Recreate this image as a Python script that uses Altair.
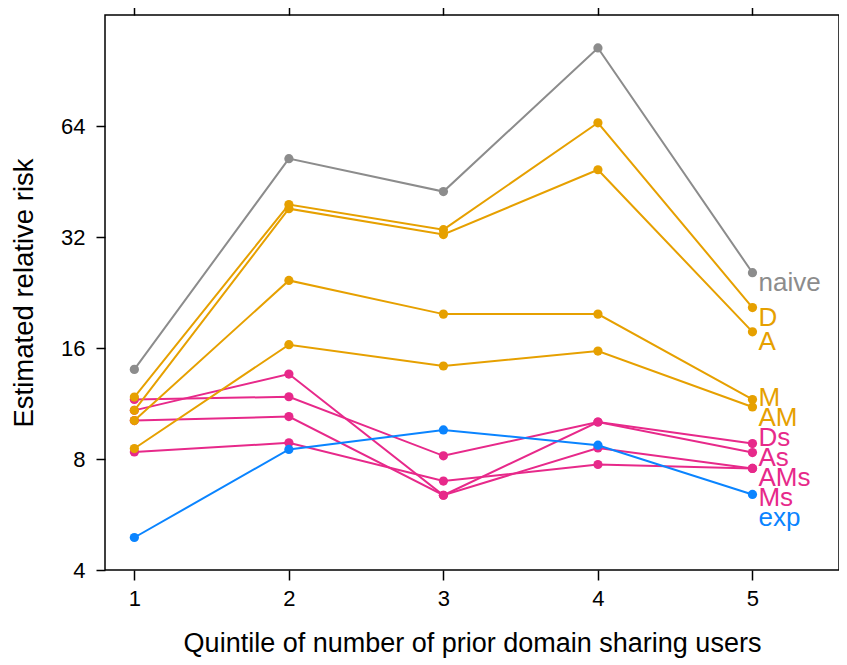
import altair as alt
import pandas as pd
import numpy as np

quintiles = [1, 2, 3, 4, 5]
series_names = ["naive", "D", "A", "M", "AM", "Ds", "As", "AMs", "Ms", "exp"]

naive = [14.0, 52.2, 42.5, 104.2, 25.6]
D = [11.78, 39.2, 33.5, 65.3, 20.6]
A = [10.84, 38.2, 32.5, 48.7, 17.7]
M = [10.17, 24.4, 19.77, 19.77, 11.6]
AM = [8.54, 16.33, 14.3, 15.7, 11.07]
Ds = [11.6, 11.8, 8.16, 10.08, 8.81]
As = [10.84, 13.6, 6.38, 10.08, 8.33]
AMs = [10.17, 10.43, 6.38, 8.57, 7.54]
Ms = [8.36, 8.85, 6.97, 7.73, 7.54]
exp = [4.9, 8.49, 9.59, 8.72, 6.41]

series_values = [naive, D, A, M, AM, Ds, As, AMs, Ms, exp]
series_group = ["naive", "model", "model", "model", "model",
                "smooth", "smooth", "smooth", "smooth", "exp"]
group_colors = {"naive": "#8C8C8C", "model": "#E6A000", "smooth": "#E7298A", "exp": "#0A84FF"}
y_ticks = [4, 8, 16, 32, 64]

rows = []
for name, vals, grp in zip(series_names, series_values, series_group):
    for q, v in zip(quintiles, vals):
        rows.append({"series": name, "group": grp, "q": q, "risk": v})
df = pd.DataFrame(rows)

# direct labels: place at last point, spread to avoid overlap (log2 space)
ends = [(i, name, vals[-1]) for i, (name, vals) in enumerate(zip(series_names, series_values))]
ends_sorted = sorted(ends, key=lambda t: (-t[2], t[0]))
offset = 0.09
gap = 0.18
desired = [-np.log2(v) + offset for _, _, v in ends_sorted]
z = [d - i * gap for i, d in enumerate(desired)]
blocks = []
for v in z:
    blocks.append([v, 1])
    while len(blocks) > 1 and blocks[-2][0] / blocks[-2][1] > blocks[-1][0] / blocks[-1][1]:
        s, c = blocks.pop()
        blocks[-1][0] += s
        blocks[-1][1] += c
fit = []
for s, c in blocks:
    fit += [s / c] * c
pos = [f + i * gap for i, f in enumerate(fit)]
lab_rows = []
for (i, name, v), u in zip(ends_sorted, pos):
    lab_rows.append({"series": name, "group": series_group[i], "q": 5, "risk": float(2 ** (-u))})
labdf = pd.DataFrame(lab_rows)

xscale = alt.Scale(domain=[0.81, 5.56], nice=False, zero=False)
yscale = alt.Scale(type="log", base=2, domain=[4, 128], nice=False)
cscale = alt.Scale(domain=list(group_colors.keys()), range=list(group_colors.values()))

FONT = "Liberation Sans"
xax = alt.Axis(values=quintiles, format="d", tickSize=10, tickColor="black", tickWidth=1.5,
               labelFontSize=22, labelPadding=8, labelColor="black", labelFont=FONT,
               titleFontSize=27, titleFont=FONT, titleFontWeight="normal",
               titlePadding=21, titleColor="black", domain=False, grid=False)
yax = alt.Axis(values=y_ticks, format="d", tickSize=9, tickColor="black", tickWidth=1.5,
               labelFontSize=22, labelPadding=11, labelColor="black", labelFont=FONT,
               titleFontSize=27.5, titleFont=FONT, titleFontWeight="normal",
               titlePadding=22, titleColor="black", domain=False, grid=False)

layers = []
for grp in ["smooth", "model", "naive", "exp"]:
    sub = df[df["group"] == grp]
    base = alt.Chart(sub).encode(
        x=alt.X("q:Q", scale=xscale, axis=xax, title="Quintile of number of prior domain sharing users"),
        y=alt.Y("risk:Q", scale=yscale, axis=yax, title="Estimated relative risk"),
        color=alt.Color("group:N", scale=cscale, legend=None),
        detail="series:N",
    )
    layers.append(base.mark_line(strokeWidth=2))
    layers.append(base.mark_circle(size=85, opacity=1))

labels = alt.Chart(labdf).mark_text(align="left", baseline="middle", dx=6, fontSize=26,
                                    font=FONT).encode(
    x=alt.X("q:Q", scale=xscale),
    y=alt.Y("risk:Q", scale=yscale),
    text="series:N",
    color=alt.Color("group:N", scale=cscale, legend=None),
)
main = alt.layer(*layers, labels)

frame_axes = alt.Chart(df).mark_point(opacity=0).encode(
    x=alt.X("q:Q", scale=xscale, title=None,
            axis=alt.Axis(orient="top", values=quintiles, labels=False, tickSize=10,
                          tickColor="black", tickWidth=1.5, domain=False, grid=False)),
    y=alt.Y("risk:Q", scale=yscale, title=None,
            axis=alt.Axis(orient="right", values=y_ticks, labels=False, tickSize=9,
                          tickColor="black", tickWidth=1.5, domain=False, grid=False)),
)

chart = alt.layer(main, frame_axes).resolve_axis(x="independent", y="independent").properties(
    width=734, height=555,
    padding={"left": 97, "top": 7, "right": 0, "bottom": 91},
    autosize=alt.AutoSizeParams(type="none"),
    background="white",
).configure_view(stroke="black", strokeWidth=1.5)

chart.save("out.html", embed_options={"renderer": "svg", "actions": False})
